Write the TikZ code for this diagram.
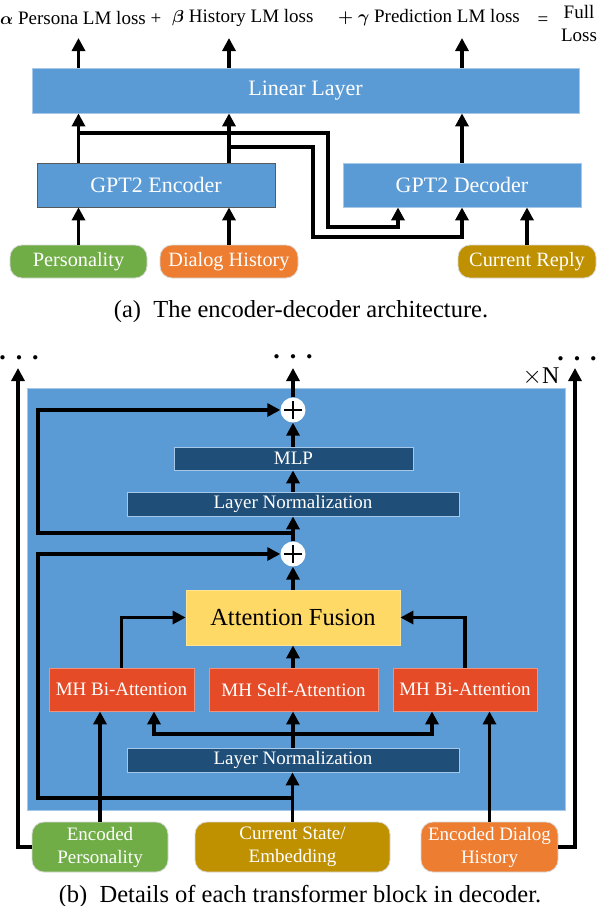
\documentclass[tikz,border=0pt]{standalone}
\usepackage{amsmath}
\usepackage{fontspec}
\setmainfont{Liberation Serif}
\usetikzlibrary{arrows.meta}
\definecolor{blockblue}{HTML}{5B9BD5}
\definecolor{navyblue}{HTML}{1F4E79}
\definecolor{attnred}{HTML}{E54B27}
\definecolor{fusionyellow}{HTML}{FFD966}
\definecolor{persgreen}{HTML}{70AD47}
\definecolor{historange}{HTML}{ED7D31}
\definecolor{replygold}{HTML}{BF9000}
\newcommand{\lblfont}{\fontsize{19}{23}\selectfont}
\newcommand{\archfont}{\fontsize{22}{24}\selectfont}
\newcommand{\srcfont}{\fontsize{20.3}{23}\selectfont}
\newcommand{\capfont}{\fontsize{24.5}{27}\selectfont}
\newcommand{\dotrow}{$\bullet\mkern14mu\bullet\mkern14mu\bullet$}
\tikzset{conn/.style={line width=3.2pt,-{Triangle[width=13pt,length=13pt]}}}
\tikzset{box/.style={draw=blockblue!55!white,line width=0.8pt,fill=blockblue,text=white,font=\lblfont,inner sep=0pt}}
\tikzset{navybox/.style={box,fill=navyblue}}
\tikzset{redbox/.style={box,fill=attnred,draw=attnred!60!white}}
\tikzset{input/.style={box,draw=white!85!black,rounded corners=12pt,align=center}}
\tikzset{dots/.style={font=\fontsize{11}{11}\selectfont,inner sep=0pt,anchor=base}}
\tikzset{plusnode/.style={circle,fill=white,minimum size=25pt,inner sep=0pt,
  path picture={\draw[line width=1.8pt] (path picture bounding box.center) +(-9pt,0) -- +(9pt,0)
    (path picture bounding box.center) +(0,-9pt) -- +(0,9pt);}}}

\begin{document}
\begin{tikzpicture}[x=1pt,y=-1pt]
  \useasboundingbox (0,0) rectangle (598,906);
  % (a) encoder-decoder
  \node[anchor=west,font=\lblfont,inner sep=0pt] (lossP) at (0,18) {$\boldsymbol{\alpha}$ Persona LM loss +};
  \node[anchor=west,font=\lblfont,inner sep=0pt] (lossH) at (172,18) {$\boldsymbol{\beta}$ History LM loss};
  \node[anchor=west,font=\lblfont,inner sep=0pt] (lossR) at (338,18) {$\boldsymbol{+}$ $\boldsymbol{\gamma}$ Prediction LM loss};
  \node[font=\lblfont,inner sep=0pt] (eq) at (543,21) {=};
  \node[font=\lblfont,align=center,inner sep=0pt] (full) at (579,23) {Full\\Loss};
  \coordinate (outP) at (78.5,38);
  \coordinate (outH) at (229,38);
  \coordinate (outR) at (462,38);
  \node[box,font=\archfont,minimum width=547pt,minimum height=45pt] (lin) at (305.5,90.5) {Linear Layer};
  \node[box,font=\archfont,draw=black!65,minimum width=238pt,minimum height=44pt] (enc) at (156,185) {GPT2 Encoder};
  \node[box,font=\archfont,minimum width=238pt,minimum height=44pt] (dec) at (462,185) {GPT2 Decoder};
  \node[input,font=\srcfont,fill=persgreen,minimum width=137pt,minimum height=33pt] (pers) at (78.5,261.5) {Personality};
  \node[input,font=\srcfont,fill=historange,minimum width=138pt,minimum height=33pt] (hist) at (229,261.5) {Dialog History};
  \node[input,font=\srcfont,fill=replygold,minimum width=138pt,minimum height=33pt] (reply) at (527,261.5) {Current Reply};
  \draw[conn] (pers.north) -- (pers.north |- enc.south);
  \draw[conn] (hist.north) -- (hist.north |- enc.south);
  \draw[conn] (reply.north) -- (reply.north |- dec.south);
  \draw[conn] (pers.north |- enc.north) -- (pers.north |- lin.south);
  \draw[conn] (hist.north |- enc.north) -- (hist.north |- lin.south);
  \draw[conn] (dec.north) -- (dec.north |- lin.south);
  \draw[conn] (pers.north |- lin.north) -- (outP);
  \draw[conn] (hist.north |- lin.north) -- (outH);
  \draw[conn] (dec.north |- lin.north) -- (outR);
  \draw[conn] (78.5,133) -- (328,133) -- (328,227) -| (398,0 |- dec.south);
  \draw[conn] (229,147) -- (313,147) -- (313,237) -| (dec.south);
  \node[font=\capfont] (capA) at (301,312) {(a)\enspace The encoder-decoder architecture.};
  % (b) transformer block
  \node[box,minimum width=538pt,minimum height=422pt] (blk) at (296,599) {};
  \node[font=\fontsize{24}{24}\selectfont,inner sep=0pt] (times) at (541,377) {$\times$N};
  \node[dots] (dotsL) at (19,360) {\dotrow};
  \node[dots] (dotsC) at (293,359) {\dotrow};
  \node[dots] (dotsR) at (577,361) {\dotrow};
  \coordinate (topL) at (18,368);
  \coordinate (topC) at (293,368);
  \coordinate (topR) at (575,368);
  \node[plusnode] (plusA) at (293,410) {};
  \node[navybox,minimum width=239pt,minimum height=23pt] (mlp) at (293.5,458.5) {MLP};
  \node[navybox,minimum width=332pt,minimum height=24pt] (lnA) at (293,504) {Layer Normalization};
  \node[plusnode] (plusB) at (293,554) {};
  \node[box,fill=fusionyellow,draw=fusionyellow!70!white,text=black,font=\fontsize{24.5}{28}\selectfont,
        minimum width=214pt,minimum height=55pt] (fus) at (293,617.5) {Attention Fusion};
  \node[redbox,minimum width=145pt,minimum height=43pt] (biP) at (121.5,689.5) {MH Bi-Attention};
  \node[redbox,minimum width=169pt,minimum height=43pt] (self) at (293.5,689.5) {MH Self-Attention};
  \node[redbox,minimum width=144pt,minimum height=43pt] (biH) at (465,689.5) {MH Bi-Attention};
  \node[navybox,minimum width=332pt,minimum height=24pt] (lnB) at (293,760) {Layer Normalization};
  \node[input,fill=persgreen,minimum width=136pt,minimum height=50pt] (encP) at (100,847) {Encoded\\Personality};
  \node[input,fill=replygold,minimum width=195pt,minimum height=50pt] (cur) at (292.5,847) {Current State/\\Embedding};
  \node[input,fill=historange,minimum width=137pt,minimum height=50pt] (encH) at (489.5,847) {Encoded Dialog\\History};
  \coordinate (resA) at (293,533);
  \coordinate (resB) at (293,798);
  \coordinate (splitB) at (293,734);
  \draw[conn] (cur.north) -- (cur.north |- lnB.south);
  \draw[conn] (lnB.north) -- (lnB.north |- self.south);
  \draw[conn] (splitB) -| (154,0 |- biP.south);
  \draw[conn] (splitB) -| (432,0 |- biH.south);
  \draw[conn] (encP.north) -- (encP.north |- biP.south);
  \draw[conn] (encH.north) -- (encH.north |- biH.south);
  \draw[conn] (biP.north) |- (fus.west);
  \draw[conn] (biH.north) |- (fus.east);
  \draw[conn] (fus.north |- self.north) -- (fus.south);
  \draw[conn] (fus.north) -- (plusB.south);
  \draw[conn] (plusB.north) -- (lnA.south);
  \draw[conn] (lnA.north) -- (lnA.north |- mlp.south);
  \draw[conn] (mlp.north -| plusA) -- (plusA.south);
  \draw[conn] (plusA.north) -- (topC);
  \draw[conn] (resB) -- (38,798) |- (plusB.west);
  \draw[conn] (resA) -- (38,533) |- (plusA.west);
  \draw[conn] (encP.west) -| (topL);
  \draw[conn] (encH.east) -| (topR);
  \node[font=\capfont] (capB) at (300,896) {(b)\enspace Details of each transformer block in decoder.};
\end{tikzpicture}
\end{document}
